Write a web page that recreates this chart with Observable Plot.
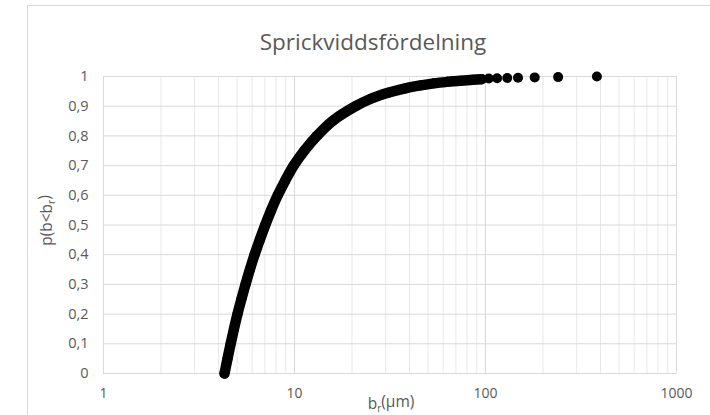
<!DOCTYPE html>
<html>
<head>
<meta charset="utf-8">
<script src="https://cdn.jsdelivr.net/npm/d3@7"></script>
<script src="https://cdn.jsdelivr.net/npm/@observablehq/plot@0.6"></script>
<style>
  body { margin: 0; background: #fff; }
  #chart { position: relative; width: 710px; height: 415px; overflow: hidden; background: #fff; }
  #frame { position: absolute; left: 27px; top: 5px; width: 760px; height: 480px; border: 1px solid #d9d9d9; box-sizing: border-box; }
  #plot { position: absolute; left: 0; top: 0; }
</style>
</head>
<body>
<div id="chart"><div id="frame"></div><div id="plot"></div></div>
<script>
// Dense part of the crack-width distribution (b_r in µm, cumulative probability)
const curveB = [4.30, 4.46, 4.63, 4.82, 5.03, 5.27, 5.54, 5.84, 6.18, 6.58, 7.03, 7.55, 8.17, 8.95, 9.9, 11.25, 13.1, 15.8, 20.9, 25.1, 30.9, 38.0, 45.7, 53.7, 63.1, 74.1, 86.1, 95.5];
const curveP = [0, 0.05, 0.10, 0.15, 0.20, 0.25, 0.30, 0.35, 0.40, 0.45, 0.50, 0.55, 0.60, 0.65, 0.70, 0.75, 0.80, 0.85, 0.90, 0.925, 0.945, 0.960, 0.970, 0.977, 0.982, 0.986, 0.989, 0.991];
// Sparse tail points
const tailB = [104, 115, 130, 148, 181, 240, 383];
const tailP = [0.993, 0.994, 0.995, 0.996, 0.997, 0.998, 1.0];

// Axis ticks
const xMajor = [1, 10, 100, 1000];
const xMinor = [2, 3, 4, 5, 6, 7, 8, 9, 20, 30, 40, 50, 60, 70, 80, 90, 200, 300, 400, 500, 600, 700, 800, 900];
const yTicks = [0, 0.1, 0.2, 0.3, 0.4, 0.5, 0.6, 0.7, 0.8, 0.9, 1];

const title = "Sprickviddsfördelning";
const yLabel = "p(b<b_r)";
const xLabel = "b_r(µm)";

const curve = curveB.map((b, i) => ({b, p: curveP[i]}));
const tail = tailB.map((b, i) => ({b, p: tailP[i]}));
const allPts = curve.concat(tail);

const fmtY = d => String(d).replace(".", ",");
const textColor = "#595959";

const chart = Plot.plot({
  width: 710,
  height: 415,
  marginLeft: 103,
  marginRight: 34,
  marginTop: 76,
  marginBottom: 42,
  style: { fontFamily: "'Open Sans', sans-serif", fontSize: "14px", color: textColor, background: "transparent" },
  x: { type: "log", domain: [1, 1000] },
  y: { domain: [0, 1] },
  marks: [
    Plot.ruleX(xMinor, { stroke: "#e8e8e8", strokeWidth: 1 }),
    Plot.ruleX(xMajor, { stroke: "#d9d9d9", strokeWidth: 1 }),
    Plot.ruleY(yTicks, { stroke: "#d9d9d9", strokeWidth: 1 }),
    Plot.axisX(xMajor, { tickSize: 0, tickPadding: 15, tickFormat: d => String(d), label: null, fontSize: 14, fill: textColor }),
    Plot.axisY(yTicks, { tickSize: 0, tickPadding: 15, tickFormat: fmtY, label: null, fontSize: 14.5, fill: textColor }),
    Plot.line(curve, { x: "b", y: "p", stroke: "black", strokeWidth: 10.5, strokeLinecap: "round", strokeLinejoin: "round", curve: "catmull-rom" }),
    Plot.dot(allPts, { x: "b", y: "p", r: 5, fill: "black", stroke: "none" }),
    Plot.text([title], { frameAnchor: "top", dy: -42, dx: -17, fontSize: 22.5, fill: textColor, text: d => d }),
    Plot.text([yLabel], { frameAnchor: "left", textAnchor: "middle", fontSize: 15.5, fill: textColor, text: d => d, className: "ylab" }),
    Plot.text([xLabel], { frameAnchor: "bottom", dy: 35, dx: 1, fontSize: 15.5, fill: textColor, text: d => d })
  ]
});

document.getElementById("plot").appendChild(chart);

// Render "_r" as a real subscript
d3.select(chart).selectAll("text").each(function() {
  const t = this.textContent;
  if (t.includes("_r")) {
    const [before, after] = t.split("_r");
    const el = d3.select(this);
    el.text(null);
    el.append("tspan").text(before);
    el.append("tspan").attr("dy", "0.3em").attr("font-size", "0.65em").text("r");
    el.append("tspan").attr("dy", "-0.3em").text(after);
  }
});

// Place the rotated y-axis title to the left of the tick labels
d3.select(chart).selectAll(".ylab text")
  .attr("x", null).attr("y", null)
  .attr("text-anchor", "middle")
  .attr("transform", "translate(51,220) rotate(-90)");
</script>
</body>
</html>
